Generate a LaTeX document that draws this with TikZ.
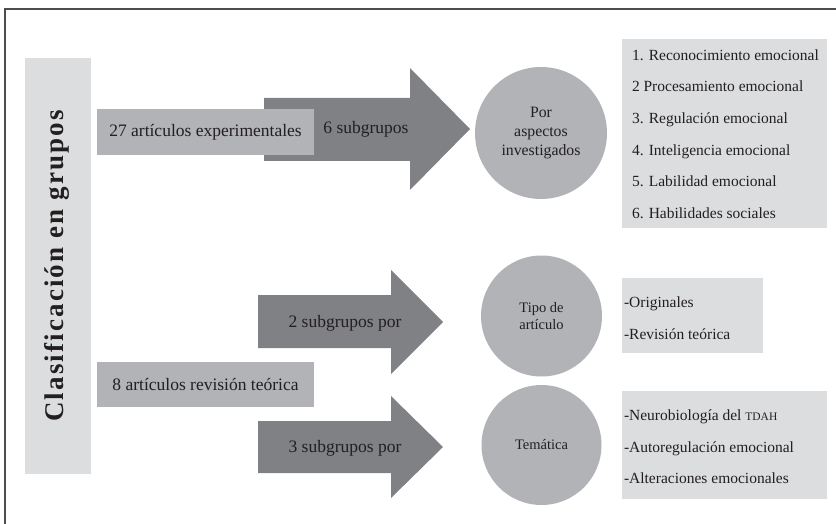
\documentclass[tikz,border=0pt]{standalone}
\usepackage{fontspec}
\setmainfont{Liberation Serif}
\definecolor{lightbg}{HTML}{DCDDDE}
\definecolor{midgray}{HTML}{B1B3B6}
\definecolor{arrowgray}{HTML}{808184}
\definecolor{framegray}{HTML}{4D4D4D}
\definecolor{txt}{HTML}{231F20}
\newcommand{\fakesc}[1]{{\fontsize{11.5}{14}\selectfont #1}}
\begin{document}
\begin{tikzpicture}[x=1pt,y=-1pt,
  lbox/.style={fill=lightbg, draw=none, inner sep=0pt},
  gbox/.style={fill=midgray, draw=none, inner sep=0pt, text=txt, font=\fontsize{17.5}{21}\selectfont},
  bigarrow/.style={fill=arrowgray, draw=none},
  circ/.style={circle, fill=midgray, draw=none, inner sep=0pt, text=txt, align=center},
  lbl/.style={text=txt, font=\fontsize{17.5}{21}\selectfont, inner sep=0pt},
  listtxt/.style={text=txt, align=left, inner sep=0pt, anchor=west, font=\fontsize{15.5}{31.6}\selectfont}
]
\useasboundingbox (0,0) rectangle (836,524);
\draw[framegray, line width=2pt] (5,524) -- (5,9.5) -- (836,9.5);

% left title bar
\node[lbox, minimum width=66pt, minimum height=416pt] (bar) at (58,266) {};
\node[text=txt, rotate=90, inner sep=0pt, font=\fontsize{27}{30}\bfseries\addfontfeature{LetterSpace=8}] (title) at ([xshift=-1pt]bar.center) {Clasificación en grupos};

% arrows
\path[bigarrow] (264,98) -- (410,98) -- (410,68) -- (470,129) -- (410,190) -- (410,161) -- (264,161) -- cycle;
\path[bigarrow] (258,295) -- (391,295) -- (391,270) -- (443,322) -- (391,374) -- (391,348) -- (258,348) -- cycle;
\path[bigarrow] (258,421) -- (391,421) -- (391,396) -- (443,447) -- (391,498) -- (391,473) -- (258,473) -- cycle;

\node[lbl] (a1) at (366,129) {6 subgrupos};
\node[lbl] (a2) at (345,323) {2 subgrupos por};
\node[lbl] (a3) at (345,448) {3 subgrupos por};

% source boxes
\node[gbox, minimum width=217pt, minimum height=46pt] (exp) at (205.5,132) {27 artículos experimentales};
\node[gbox, minimum width=217pt, minimum height=45pt] (rev) at (205.5,384.5) {8 artículos revisión teórica};

% circles
\node[circ, minimum size=132pt, font=\fontsize{15.8}{19}\selectfont] (c1) at (541,133) {Por\\aspectos\\investigados};
\node[circ, minimum size=121pt, font=\fontsize{14.5}{17}\selectfont] (c2) at (541.5,316) {Tipo de\\artículo};
\node[circ, minimum size=120pt, font=\fontsize{14.5}{17}\selectfont] (c3) at (541.5,445) {Temática};

% list boxes
\node[lbox, minimum width=205pt, minimum height=189pt] (l1) at (724.5,133.5) {};
\node[lbox, minimum width=141pt, minimum height=75pt] (l2) at (692.5,315.5) {};
\node[lbox, minimum width=205pt, minimum height=108pt] (l3) at (724.5,445) {};

\node[listtxt] (t1) at ([xshift=10pt,yshift=-0.5pt]l1.west) {1. Reconocimiento emocional\\2 Procesamiento emocional\\3. Regulación emocional\\4. Inteligencia emocional\\5. Labilidad emocional\\6. Habilidades sociales};
\node[listtxt] (t2) at ([xshift=2pt,yshift=-2.5pt]l2.west) {-Originales\\-Revisión teórica};
\node[listtxt] (t3) at ([xshift=2pt,yshift=-2pt]l3.west) {-Neurobiología del \fakesc{TDAH}\\-Autoregulación emocional\\-Alteraciones emocionales};
\end{tikzpicture}
\end{document}
